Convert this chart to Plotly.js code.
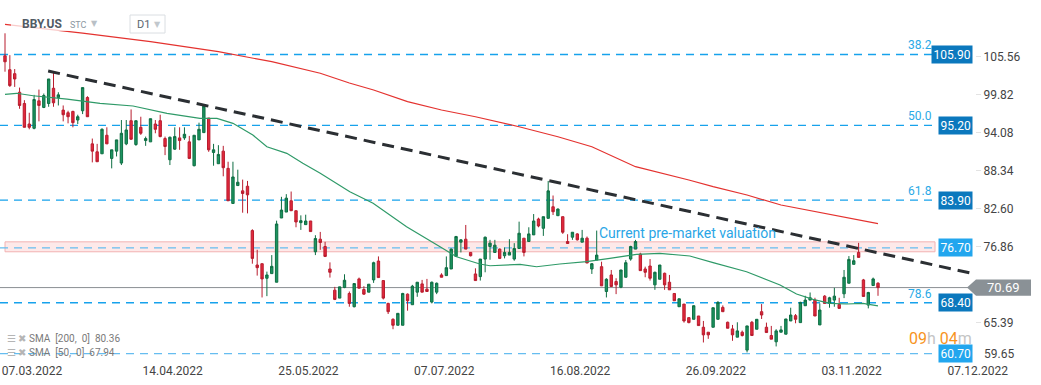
<!DOCTYPE html>
<html><head><meta charset="utf-8">
<script src="https://cdn.plot.ly/plotly-3.0.1.min.js"></script>
<style>html,body{margin:0;padding:0;background:#fff;}#chart{width:1041px;height:385px;}</style>
</head><body><div id="chart"></div>
<script>
// ---- data ----
const opens=[105.7,103.6,103.0,100.2,98.5,95.4,94.75,98.9,97.9,98.5,100.8,99.4,97.5,97.1,97.3,96.0,97.4,99.4,92.4,91.2,90.9,93.7,90.2,91.3,89.5,92.4,95.9,92.3,94.9,92.9,92.7,95.4,95.9,93.2,90.0,91.6,93.3,93.3,92.7,89.1,93.0,94.1,96.3,91.1,89.4,91.3,88.7,83.4,86.1,85.3,86.0,79.3,74.1,74.3,72.1,72.8,71.5,81.2,82.1,83.8,82.3,80.5,80.2,80.75,76.1,78.0,76.9,73.5,70.3,69.1,70.7,69.8,67.8,72.0,70.4,70.0,71.85,74.7,71.75,68.3,65.9,65.0,65.0,69.7,68.1,70.0,71.25,70.45,68.5,70.0,72.6,72.5,73.5,75.4,77.55,78.0,76.0,72.75,72.35,75.0,76.9,76.0,76.5,75.5,75.6,75.0,76.6,78.15,77.65,78.65,81.05,79.65,81.15,82.9,81.55,81.4,77.65,78.3,78.8,77.55,78.15,73.5,74.85,73.85,70.1,72.6,71.6,70.75,72.25,75.0,76.5,75.75,73.5,73.95,71.1,71.95,72.85,71.5,69.8,67.8,68.2,66.15,65.9,66.4,64.7,63.95,64.7,65.9,67.7,65.45,64.45,63.2,63.95,61.25,65.45,64.4,67.05,64.7,63.45,62.5,63.95,63.65,65.65,66.45,65.4,67.95,68.8,68.8,65.05,69.4,68.3,68.8,68.15,69.75,71.35,74.2,76.0,71.85,68.05,71.0,71.35];
const highs=[109.1,105.8,103.7,100.9,99.0,97.1,99.8,100.6,100.0,102.2,103.2,100.2,98.2,97.4,97.4,96.8,100.9,99.6,93.2,92.4,94.75,94.9,91.5,93.0,96.0,96.0,97.6,95.9,96.5,93.5,96.2,96.0,96.8,93.5,93.5,94.9,94.9,94.9,93.6,93.7,95.6,98.1,96.3,92.4,92.2,92.1,89.7,89.7,88.5,87.0,86.8,79.5,76.4,74.3,73.1,75.6,80.8,84.4,84.8,85.2,82.3,81.6,81.7,80.75,78.6,79.1,77.6,74.5,70.8,70.8,72.7,70.1,71.3,72.2,70.9,71.2,74.6,75.4,71.75,68.4,66.05,66.8,69.9,69.8,71.1,71.5,71.85,72.0,71.6,71.45,72.85,75.4,76.6,78.5,78.0,80.15,76.0,73.6,75.0,78.4,77.9,77.9,76.6,76.75,78.0,77.4,80.65,78.15,79.8,81.8,81.25,81.4,86.8,84.6,82.65,81.4,78.75,79.05,78.9,79.4,78.4,74.4,79.3,74.6,72.1,73.35,72.1,73.35,74.85,77.0,77.9,75.95,73.85,75.0,73.1,74.1,72.95,72.6,69.8,69.0,68.2,66.15,68.0,66.4,65.65,63.95,67.65,68.65,68.0,65.55,65.05,65.45,64.2,64.9,65.65,65.9,68.2,65.4,64.9,64.4,64.9,65.95,67.65,66.7,68.55,69.45,69.95,69.15,68.3,69.55,69.3,70.65,69.15,73.35,75.45,75.6,77.45,72.0,70.05,72.2,71.5];
const lows=[103.3,101.0,101.0,97.7,94.9,94.6,94.6,95.8,97.8,98.0,98.0,98.2,95.8,95.5,94.9,95.4,96.9,96.5,89.6,89.7,90.9,92.4,88.7,90.5,89.2,92.2,93.0,92.1,93.75,92.1,92.7,94.0,93.4,90.7,89.2,91.5,91.5,93.0,90.1,89.0,93.0,94.1,91.2,89.1,89.4,87.5,83.8,83.4,86.1,82.0,81.9,74.3,72.5,69.2,69.4,72.8,71.5,81.2,82.1,82.3,79.8,79.4,80.2,79.15,75.6,76.4,75.3,72.2,68.8,69.1,70.6,67.8,67.7,70.6,69.6,70.0,71.4,72.2,68.9,66.7,64.4,65.0,65.0,67.2,68.1,69.3,70.0,70.1,68.3,69.7,72.25,72.5,73.5,75.4,76.0,76.5,75.4,71.75,71.75,73.0,74.9,76.0,75.0,75.1,75.6,74.75,76.6,75.4,77.65,78.65,79.8,78.5,81.15,81.65,81.55,78.8,77.35,77.9,77.8,77.55,74.4,72.75,74.85,70.95,69.2,70.85,69.7,70.6,72.25,74.75,76.5,73.25,72.25,71.75,70.35,71.95,70.35,70.35,68.7,67.8,65.4,65.3,65.9,64.95,62.4,62.95,64.7,65.9,67.05,64.55,62.65,63.2,63.3,60.9,63.45,64.4,65.95,63.9,62.9,61.8,63.95,63.65,65.65,65.3,65.4,67.95,68.8,66.4,65.05,68.3,67.65,67.8,67.55,69.1,71.35,74.2,75.25,69.35,67.55,71.0,69.45];
const closes=[104.8,101.2,102.2,98.2,94.9,94.9,99.1,98.2,99.7,102.2,98.6,99.8,96.8,96.5,95.6,96.5,100.9,96.5,91.3,89.7,94.6,92.4,91.5,93.0,94.0,94.5,93.1,95.9,94.0,93.2,96.2,94.6,93.5,92.0,93.4,93.5,92.9,93.85,90.2,93.7,94.6,98.1,91.5,91.5,90.8,88.8,83.8,87.4,86.6,84.9,84.7,75.1,73.7,72.0,72.6,73.9,80.3,82.4,84.2,82.3,80.6,80.8,80.75,79.15,78.1,77.5,75.4,73.0,68.9,70.8,71.8,68.3,71.3,70.6,69.7,71.2,74.45,72.2,69.1,67.05,65.0,66.8,69.8,68.7,70.9,71.5,70.0,70.1,71.5,71.35,72.25,73.7,76.5,78.4,77.9,76.5,75.5,71.75,75.0,78.3,77.4,77.1,75.1,76.0,76.0,76.6,78.9,76.0,78.8,80.75,80.0,81.4,85.3,82.15,82.55,79.05,77.35,79.05,77.9,78.15,74.4,74.3,75.6,70.95,71.95,70.85,71.1,73.35,74.45,76.9,77.65,73.25,73.0,72.1,73.0,74.1,71.1,70.35,68.7,69.0,65.65,65.4,67.95,64.95,63.55,63.55,67.65,68.45,67.05,64.55,63.55,64.15,63.45,64.9,63.45,65.9,66.55,63.9,62.9,64.15,64.3,65.95,66.55,65.9,68.45,68.8,69.15,66.4,67.3,68.3,69.15,69.4,67.55,72.25,74.95,74.75,75.25,69.35,69.95,72.0,70.69];

const sma200Idx=[0,16,30,44,55,65,71,76,83,90,97,106,114,121,130,137,141,146,153,160,167,174,180];
const sma200Val=[110.46,109.14,107.83,106.32,104.81,103.06,101.59,100.54,98.77,97.51,96.5,94.99,93.48,91.97,88.95,87.69,86.94,85.93,84.67,83.16,82.15,81.15,80.36];
const sma50Idx=[0,2.4,5.8,12.8,19.6,26.4,33.4,40.2,43.7,47,51.1,54,58.1,61.4,65,71.1,75.9,82.8,89.7,93.1,97.9,100,106.2,109.6,114.4,119.9,124.7,130.2,135,141.2,146,152.9,159.8,163.2,166.6,170.1,173.5,176.9,180];
const sma50Val=[99.88,100.04,99.67,99.17,98.52,98.12,97.01,96.26,96.26,95.5,93.74,91.97,90.97,89.46,87.95,85.17,83.42,79.88,76.86,75.35,74.25,73.99,74.2,73.84,74.25,74.6,75.11,75.72,75.87,75.46,74.45,73.09,71.08,69.72,68.92,68.31,68.21,68.31,67.94];

const trendIdx=[8.9,199.4];
const trendVal=[103.4,72.84];

const levels=[105.90,95.20,83.90,76.70,68.40,60.70];
const levelLabels=["105.90","95.20","83.90","76.70","68.40","60.70"];
const fibLabels=["38.2","50.0","61.8","","78.6",""];
const bandRange=[76.1,77.6];
const lastPrice=70.69;

const dateTickIdx=[0,29,57,85,113,141,169,195];
const dateTickText=["07.03.2022","14.04.2022","25.05.2022","07.07.2022","16.08.2022","26.09.2022","03.11.2022","07.12.2022"];
const priceTicks=[65.39,76.86,82.60,88.34,94.08,99.82,105.56];
const lowestTick=59.65;

const sma200Legend="SMA  [200,  0]  80.36";
const sma50Legend="SMA  [50,  0]  67.94";
const noteText="Current pre-market valuation";
const noteIdx=122, noteVal=78.93;

// ---- drawing ----
const idx=opens.map((_,i)=>i);
const W=975, H=362;
const px=x=>x/W, py=y=>1-y/H;

const traces=[
 {type:'scatter',mode:'lines',x:sma200Idx,y:sma200Val,line:{color:'#e4322f',width:1.2},hoverinfo:'skip'},
 {type:'scatter',mode:'lines',x:sma50Idx,y:sma50Val,line:{color:'#2f9a68',width:1.2},hoverinfo:'skip'},
 {type:'candlestick',x:idx,open:opens,high:highs,low:lows,close:closes,
  increasing:{line:{color:'#0e6e43',width:1},fillcolor:'#1c9460'},
  decreasing:{line:{color:'#b81d2e',width:1},fillcolor:'#e2283c'},
  whiskerwidth:0,hoverinfo:'skip'}
];

const lightLevel=[false,false,false,true,false,true];
const shapes=[];
shapes.push({type:'rect',xref:'paper',yref:'y',x0:px(5),x1:px(935),y0:bandRange[0],y1:bandRange[1],
  fillcolor:'#fde9e9',line:{color:'#f2b2b2',width:1},layer:'below'});
levels.forEach((v,i)=>{
  shapes.push({type:'line',xref:'paper',yref:'y',x0:0,x1:px(935),y0:v,y1:v,layer:'below',
   line:{color:lightLevel[i]?'#66bdf0':'#17a2ec',width:1.3,dash:'8px,6px'}});
});
shapes.push({type:'line',xref:'paper',yref:'y',x0:0,x1:px(968),y0:lastPrice,y1:lastPrice,layer:'below',
  line:{color:'#8a8f93',width:1}});
shapes.push({type:'line',xref:'x',yref:'y',x0:trendIdx[0],x1:trendIdx[1],y0:trendVal[0],y1:trendVal[1],
  line:{color:'#2b2f33',width:3,dash:'12px,7px'}});
const hh=1.22;
shapes.push({type:'path',xref:'paper',yref:'y',
  path:`M ${px(967)},${lastPrice} L ${px(976)},${lastPrice+hh} L ${px(1031)},${lastPrice+hh} L ${px(1031)},${lastPrice-hh} L ${px(976)},${lastPrice-hh} Z`,
  fillcolor:'#8a9196',line:{width:0}});
// header fade + D1 box
shapes.push({type:'rect',xref:'paper',yref:'paper',x0:px(11),x1:px(90),y0:py(31),y1:py(17),fillcolor:'rgba(255,255,255,0.75)',line:{width:0}});
shapes.push({type:'rect',xref:'paper',yref:'paper',x0:px(130),x1:px(165),y0:py(33),y1:py(15),fillcolor:'#ffffff',line:{color:'#dadee2',width:1}});

const ann=[];
levels.forEach((v,i)=>{
  ann.push({xref:'paper',yref:'y',x:px(973),y:v,xanchor:'right',yanchor:'middle',showarrow:false,
    text:levelLabels[i],font:{family:'Roboto',size:12,color:'#ffffff'},
    bgcolor:lightLevel[i]?'#22a6ee':'#0b78bd',borderpad:1.5});
  if(fibLabels[i]) ann.push({xref:'paper',yref:'y',x:px(934),y:v,yshift:9,xanchor:'right',yanchor:'middle',showarrow:false,
    text:fibLabels[i],font:{family:'Roboto',size:12,color:'#2aa9e6'}});
});
ann.push({xref:'paper',yref:'y',x:px(1003),y:lastPrice,xanchor:'center',yanchor:'middle',showarrow:false,
  text:lastPrice.toFixed(2),font:{family:'Roboto',size:13,color:'#ffffff'}});
ann.push({xref:'paper',yref:'y',x:px(982),y:lowestTick,yshift:7,xanchor:'left',yanchor:'middle',showarrow:false,
  text:lowestTick.toFixed(2),font:{family:'Roboto',size:12,color:'#444444'}});
ann.push({xref:'x',yref:'y',x:noteIdx,y:noteVal,xanchor:'left',yanchor:'middle',showarrow:false,
  text:noteText,font:{family:'Roboto',size:14,color:'#2aa6e6'}});
ann.push({xref:'paper',yref:'paper',x:px(20),y:py(24),xanchor:'left',yanchor:'middle',showarrow:false,
  text:'<b>BBY.US</b>',font:{family:'Roboto',size:12,color:'#515b65'}});
ann.push({xref:'paper',yref:'paper',x:px(68),y:py(25),xanchor:'left',yanchor:'middle',showarrow:false,
  text:'STC',font:{family:'Roboto',size:9,color:'#8c97a1'}});
ann.push({xref:'paper',yref:'paper',x:px(89),y:py(23),xanchor:'left',yanchor:'middle',showarrow:false,
  text:'▼',font:{family:'DejaVu Sans',size:8,color:'#b9c0c6'}});
ann.push({xref:'paper',yref:'paper',x:px(135),y:py(24),xanchor:'left',yanchor:'middle',showarrow:false,
  text:'D1',font:{family:'Roboto',size:11,color:'#5b656f'}});
ann.push({xref:'paper',yref:'paper',x:px(152),y:py(24),xanchor:'left',yanchor:'middle',showarrow:false,
  text:'▼',font:{family:'DejaVu Sans',size:8,color:'#c2c8cd'}});
ann.push({xref:'paper',yref:'paper',x:px(5),y:py(338),xanchor:'left',yanchor:'middle',showarrow:false,
  text:'<span style="color:#b5b5b5">☰ ✖</span> '+sma200Legend,font:{family:'Roboto',size:10,color:'#7a7a7a'}});
ann.push({xref:'paper',yref:'paper',x:px(5),y:py(352),xanchor:'left',yanchor:'middle',showarrow:false,
  text:'<span style="color:#b5b5b5">☰ ✖</span> '+sma50Legend,font:{family:'Roboto',size:10,color:'#7a7a7a'}});
ann.push({xref:'paper',yref:'paper',x:px(974),y:py(338),xanchor:'right',yanchor:'middle',showarrow:false,
  text:'<span style="color:#f7941d">09</span><span style="color:#c4c4c4">h</span> <span style="color:#f7941d">04</span><span style="color:#c4c4c4">m</span>',
  font:{family:'Roboto',size:16,color:'#f7941d'}});

const layout={
  width:1041,height:385,margin:{l:0,r:66,t:0,b:23},
  paper_bgcolor:'#ffffff',plot_bgcolor:'#ffffff',showlegend:false,
  font:{family:'Roboto',size:12,color:'#444444'},
  xaxis:{range:[-1.03,200],tickmode:'array',tickvals:dateTickIdx,ticktext:dateTickText,
    ticks:'',showgrid:false,zeroline:false,showline:false,ticklabelshift:27,ticklabeloverflow:'allow',
    tickfont:{family:'Roboto',size:12,color:'#444444'},rangeslider:{visible:false},fixedrange:true},
  yaxis:{side:'right',range:[59.45,114.13],tickmode:'array',tickvals:priceTicks,
    ticktext:priceTicks.map(v=>v.toFixed(2)),ticks:'outside',ticklen:5,tickcolor:'#e3e3e3',
    showgrid:false,zeroline:false,showline:false,tickfont:{family:'Roboto',size:12,color:'#444444'},fixedrange:true},
  shapes:shapes,annotations:ann
};
Plotly.newPlot('chart',traces,layout,{staticPlot:true,displayModeBar:false});
</script></body></html>
